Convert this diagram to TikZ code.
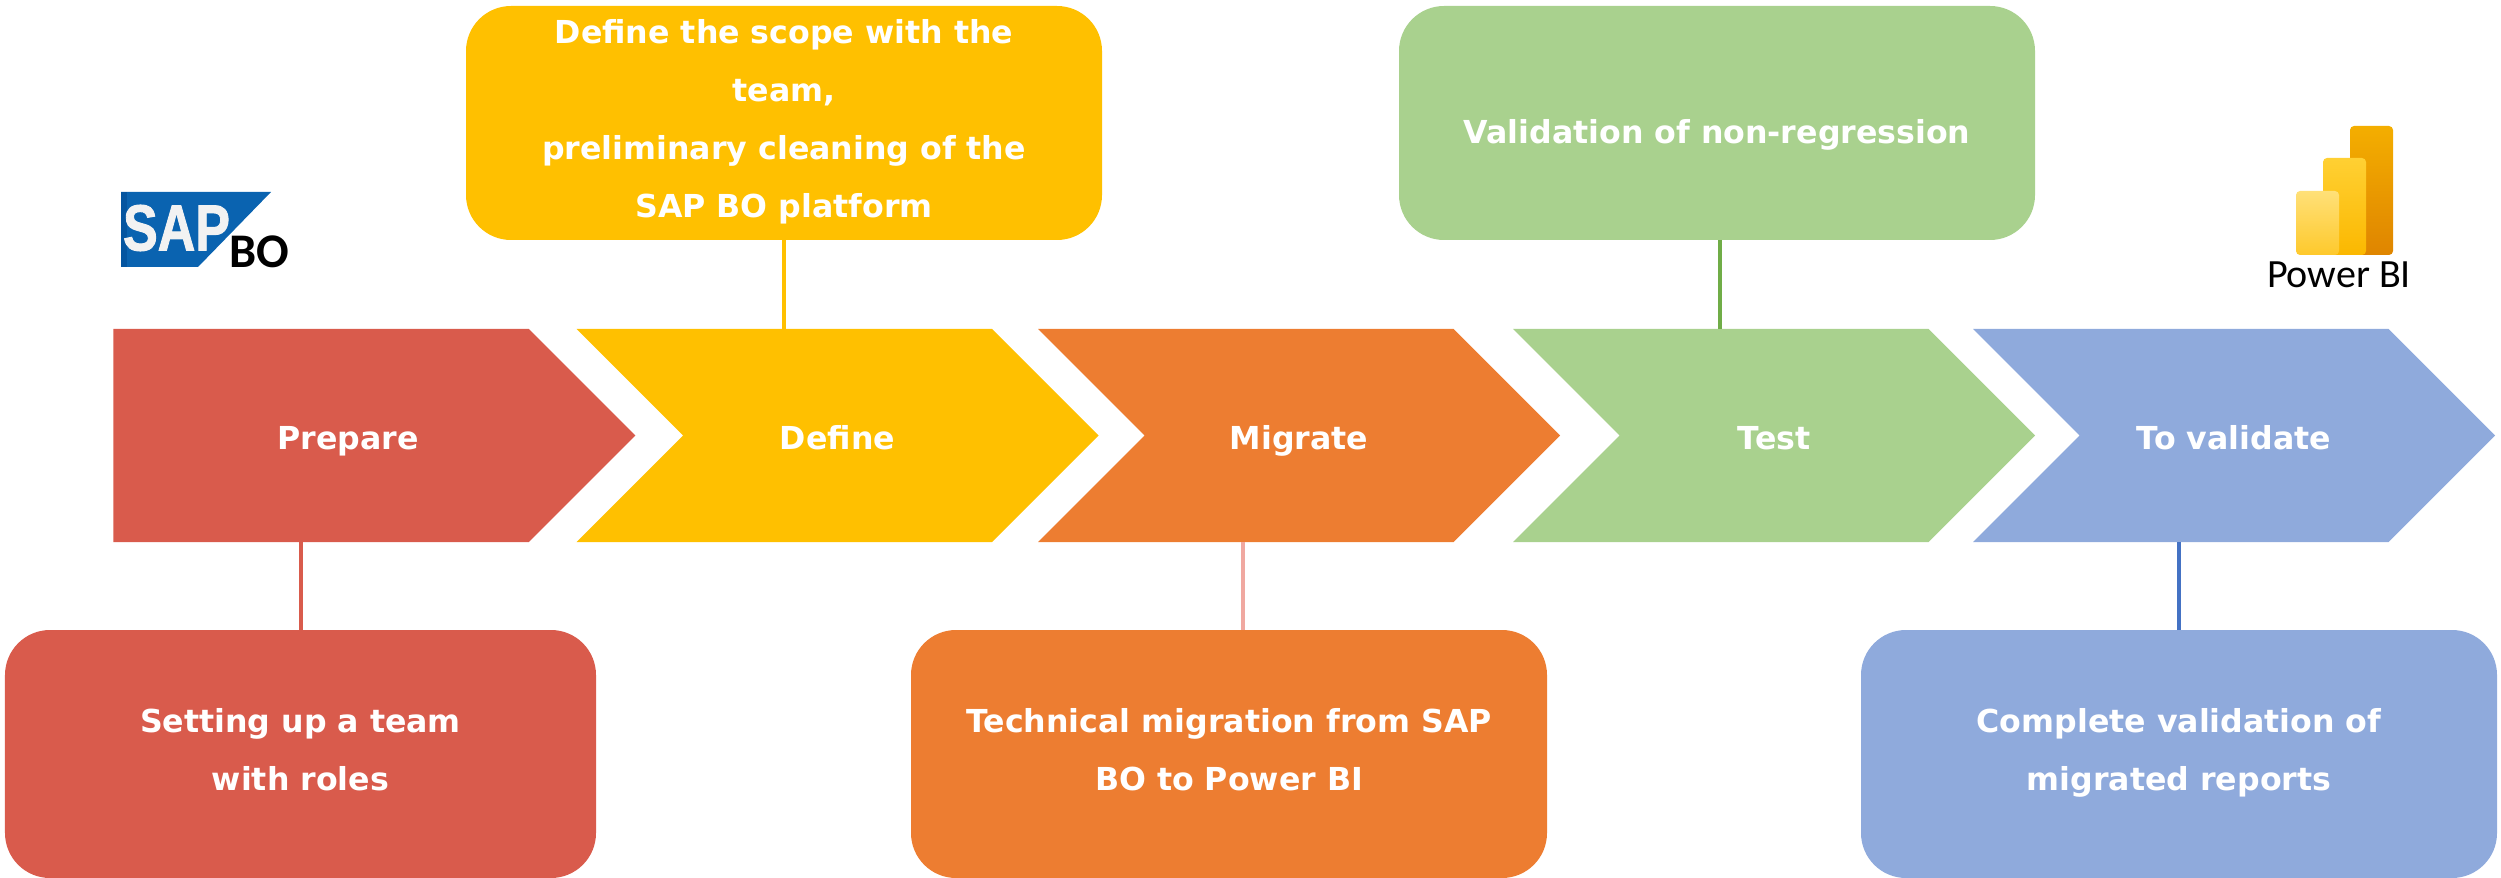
\documentclass[tikz,border=0pt]{standalone}
\usepackage{fontspec}
\setmainfont{DejaVu Sans}
\newfontfamily\logofont[UprightFont=* Bold,FakeBold=1.6]{Liberation Sans}
\newfontfamily\bifont{Carlito}
\usetikzlibrary{positioning,shapes.symbols}
\definecolor{redfill}{HTML}{D95B4C}
\definecolor{yellowfill}{HTML}{FFC000}
\definecolor{orangefill}{HTML}{ED7D31}
\definecolor{greenfill}{HTML}{A9D18E}
\definecolor{bluefill}{HTML}{8FAADC}
\definecolor{orangelink}{HTML}{F0A8A0}
\definecolor{greenlink}{HTML}{70AD47}
\definecolor{bluelink}{HTML}{4472C4}
\definecolor{sapblue}{HTML}{0A63B0}
\definecolor{sapdark}{HTML}{0455A0}
\definecolor{barhightop}{HTML}{F4AE00}
\definecolor{barhighbot}{HTML}{DF8500}
\definecolor{barmidtop}{HTML}{FFD033}
\definecolor{barmidbot}{HTML}{FBB800}
\definecolor{barlowtop}{HTML}{FFE078}
\definecolor{barlowbot}{HTML}{FEC92C}
\newcommand{\lowstrut}{\rule[-5pt]{0pt}{0pt}}
\tikzstyle{phase}=[signal, signal to=east, signal from=west, signal pointer angle=90, minimum height = 4.26cm, minimum width=10.44cm, inner sep=0pt, outer sep=0pt, text=white, font=\fontsize{18}{33}\selectfont\bfseries, execute at begin node=\rule{0pt}{21.5pt}, execute at end node=\lowstrut]
\tikzstyle{box}=[rectangle, rounded corners=0.9cm, minimum width=12.72cm, inner sep=0pt, outer sep=0pt, align=center, text=white, font=\fontsize{18}{33}\selectfont\bfseries, execute at end node=\lowstrut]
\tikzstyle{tbox}=[box, minimum height = 4.68cm, execute at begin node=\rule{0pt}{28.7pt}]
\tikzstyle{bbox}=[box, minimum height = 4.96cm, execute at begin node=\rule{0pt}{28.4pt}]
\tikzstyle{link}=[line width=0.08cm]
\tikzstyle{bibar}=[rectangle, rounded corners=0.08cm, minimum width=0.86cm, inner sep=0pt, outer sep=0pt]
\begin{document}
\begin{tikzpicture}[node distance=2cm,auto]
  \useasboundingbox (0,0) rectangle (50.02,-17.56);

  \node[phase, fill=redfill, signal from=nowhere] at (6.42,-8.71) (prepare) {\hspace*{30.7pt}Prepare};
  \node[phase, fill=yellowfill, right of = prepare, node distance = 10.33cm] (define) {Define};
  \node[phase, fill=orangefill, right of = define, node distance = 9.23cm] (migrate) {Migrate};
  \node[phase, fill=greenfill, right of = migrate, node distance = 9.50cm] (test) {Test};
  \node[phase, fill=bluefill, right of = test, node distance = 9.20cm] (validate) {To validate};

  \node[bbox, fill=redfill, minimum width=11.82cm, below of = prepare, node distance = 6.37cm, xshift=-0.41cm] (team) {Setting up a team\\with roles};
  \node[tbox, fill=yellowfill, above of = define, node distance = 6.25cm, xshift=-1.07cm] (scope) {Define the scope with the\\team,\\preliminary cleaning of the\\SAP BO platform};
  \node[bbox, fill=orangefill, below of = migrate, node distance = 6.37cm, xshift=-1.40cm] (techmig) {Technical migration from SAP\\BO to Power BI};
  \node[tbox, fill=greenfill, above of = test, node distance = 6.25cm, xshift=-1.14cm, execute at begin node=\rule{0pt}{24.3pt}] (nonreg) {Validation of non-regression};
  \node[bbox, fill=bluefill, below of = validate, node distance = 6.37cm, xshift=-1.10cm] (complete) {Complete validation of\\migrated reports};

  \draw[link, color=redfill] (team.north) -- (team.north |- prepare.south);
  \draw[link, color=yellowfill] (scope.south) -- (scope.south |- define.north);
  \draw[link, color=orangelink] ([xshift=0.28cm]techmig.north) -- ([xshift=0.28cm]techmig.north |- migrate.south);
  \draw[link, color=greenlink] ([xshift=0.06cm]nonreg.south) -- ([xshift=0.06cm]nonreg.south |- test.north);
  \draw[link, color=bluelink] (complete.north) -- (complete.north |- validate.south);

  % SAP logo
  \fill[sapblue] (2.42,-3.84) -- (5.42,-3.84) -- (3.96,-5.34) -- (2.42,-5.34) -- cycle;
  \fill[sapdark] (2.42,-3.84) rectangle (2.54,-5.34);
  \node[inner sep=0pt, text=white!90!gray, font=\logofont\fontsize{37}{37}\selectfont] at (3.53,-4.56) (sap) {\scalebox{0.8}[1]{SAP}};
  \node[inner sep=0pt, font=\bifont\fontsize{27.5}{27.5}\selectfont\bfseries, anchor=base west] at (4.58,-5.36) (bo) {BO};

  % Power BI logo
  \node[bibar, minimum height=2.58cm, top color=barhightop, bottom color=barhighbot] at (47.43,-3.81) (barhigh) {};
  \node[bibar, minimum height=1.94cm, top color=barmidtop, bottom color=barmidbot] at (46.89,-4.13) (barmid) {};
  \node[bibar, minimum height=1.28cm, top color=barlowtop, bottom color=barlowbot] at (46.35,-4.46) (barlow) {};
  \node[inner sep=0pt, font=\bifont\fontsize{22.8}{22.8}\selectfont] at (46.78,-5.50) (pbi) {Power BI};
\end{tikzpicture}
\end{document}
